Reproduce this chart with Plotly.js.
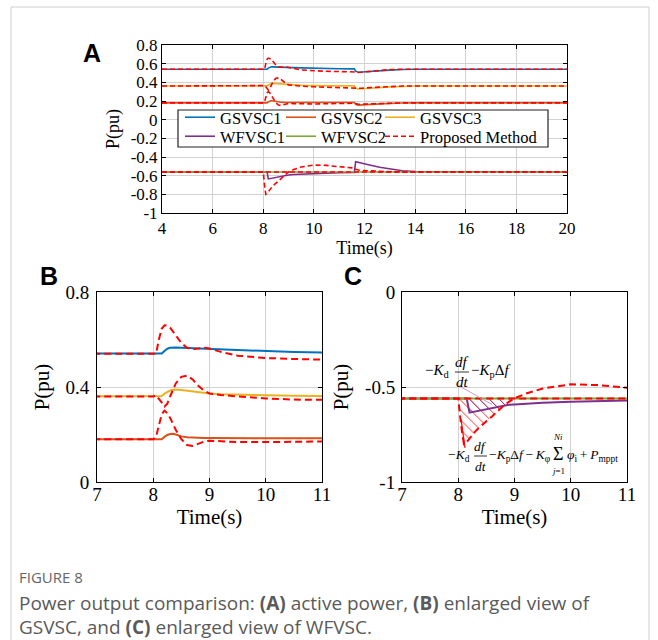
<!DOCTYPE html>
<html><head><meta charset="utf-8">
<script src="https://cdn.plot.ly/plotly-3.0.1.min.js"></script>
<style>html,body{margin:0;padding:0;background:#fff}</style>
</head><body><div id="chart" style="width:658px;height:640px"></div>
<script>
// ---------- data ----------
const time = [4, 8.0, 8.05, 8.1, 8.15, 8.2, 8.25, 8.3, 8.35, 8.4, 8.5, 8.6, 8.7, 8.8, 8.9, 9.0, 9.2, 9.5, 10.0, 10.5, 11.0, 11.5, 11.6, 11.65, 11.75, 11.9, 12.2, 12.6, 13.0, 13.5, 14.0, 20];
const gsvsc1 = [0.54,0.54,0.54,0.54,0.541,0.552,0.561,0.565,0.566,0.566,0.565,0.564,0.563,0.562,0.561,0.56,0.558,0.555,0.55,0.547,0.545,0.544,0.544,0.52,0.508,0.51,0.517,0.525,0.531,0.537,0.54,0.54];
const gsvsc2 = [0.18,0.18,0.18,0.18,0.18,0.19,0.198,0.202,0.203,0.2,0.192,0.188,0.186,0.185,0.185,0.185,0.185,0.185,0.185,0.185,0.185,0.184,0.184,0.165,0.156,0.158,0.164,0.171,0.175,0.178,0.18,0.18];
const gsvsc3 = [0.36,0.36,0.36,0.36,0.362,0.372,0.38,0.385,0.388,0.389,0.387,0.384,0.381,0.378,0.375,0.373,0.37,0.367,0.365,0.363,0.362,0.362,0.362,0.34,0.328,0.331,0.338,0.346,0.351,0.356,0.36,0.36];
const wfvsc1 = [-0.56,-0.56,-0.56,-0.56,-0.56,-0.635,-0.632,-0.628,-0.625,-0.622,-0.615,-0.608,-0.602,-0.597,-0.594,-0.592,-0.588,-0.583,-0.578,-0.573,-0.569,-0.566,-0.566,-0.45,-0.455,-0.465,-0.485,-0.51,-0.53,-0.548,-0.556,-0.56];
const wfvsc2 = [-0.56,-0.56,-0.56,-0.56,-0.56,-0.56,-0.56,-0.56,-0.56,-0.56,-0.56,-0.56,-0.56,-0.56,-0.56,-0.56,-0.56,-0.56,-0.56,-0.56,-0.56,-0.56,-0.56,-0.56,-0.56,-0.56,-0.56,-0.56,-0.56,-0.56,-0.56,-0.56];
const propGs1 = [0.54,0.54,0.54,0.6,0.645,0.66,0.658,0.65,0.635,0.615,0.585,0.565,0.56,0.562,0.565,0.562,0.548,0.532,0.522,0.518,0.516,0.515,0.515,0.511,0.506,0.51,0.52,0.53,0.536,0.54,0.54,0.54];
const propGs2 = [0.18,0.18,0.19,0.24,0.285,0.3,0.29,0.27,0.245,0.22,0.18,0.156,0.152,0.16,0.17,0.174,0.172,0.168,0.168,0.171,0.175,0.176,0.176,0.172,0.165,0.166,0.17,0.175,0.178,0.18,0.18,0.18];
const propGs3 = [0.36,0.36,0.365,0.352,0.335,0.318,0.33,0.36,0.39,0.415,0.443,0.448,0.432,0.405,0.385,0.373,0.366,0.36,0.352,0.347,0.344,0.343,0.343,0.34,0.335,0.336,0.343,0.35,0.356,0.36,0.36,0.36];
const propWf1 = [-0.56,-0.56,-0.7,-0.8,-0.79,-0.77,-0.75,-0.735,-0.72,-0.705,-0.68,-0.655,-0.625,-0.6,-0.578,-0.56,-0.535,-0.508,-0.486,-0.49,-0.504,-0.516,-0.518,-0.53,-0.54,-0.545,-0.55,-0.555,-0.558,-0.56,-0.56,-0.56];
const propWf2 = [-0.56,-0.56,-0.56,-0.56,-0.56,-0.56,-0.56,-0.56,-0.56,-0.56,-0.56,-0.56,-0.56,-0.56,-0.56,-0.56,-0.56,-0.56,-0.56,-0.56,-0.56,-0.56,-0.56,-0.56,-0.56,-0.56,-0.56,-0.56,-0.56,-0.56,-0.56,-0.56];

const seriesNames = ['GSVSC1','GSVSC2','GSVSC3','WFVSC1','WFVSC2','Proposed Method'];
const xTicksA = [4,6,8,10,12,14,16,18,20];
const yTicksA = [0.8,0.6,0.4,0.2,0,-0.2,-0.4,-0.6,-0.8,-1];
const yTickTextA = ['0.8','0.6','0.4','0.2','0','-0.2','-0.4','-0.6','-0.8','-1'];
const xTicksBC = [7,8,9,10,11];
const yTicksB = [0,0.4,0.8];
const yTickTextB = ['0','0.4','0.8'];
const yTicksC = [-1,-0.5,0];
const yTickTextC = ['-1','-0.5','0'];

// ---------- styling ----------
const W = 658, H = 640;
const px = v => v / W, py = v => 1 - v / H;
const C_BLUE = '#0072BD', C_ORANGE = '#D95319', C_YELLOW = '#EDB120', C_PURPLE = '#7E2F8E', C_GREEN = '#77AC30', C_RED = '#FF0000';
const SERIF = 'Liberation Serif, Times New Roman, serif';

function line(y, xa, ya, color, width, opts) {
  opts = opts || {};
  return Object.assign({
    type: 'scatter', mode: 'lines', x: time, y: y, xaxis: xa, yaxis: ya,
    line: {color: color, width: width, dash: opts.dash || 'solid'},
    showlegend: false, hoverinfo: 'skip'
  }, opts.extra || {});
}
function region(series, base, t0, t1, xa, ya, color) {
  const xs = [], ys = [];
  for (let i = 0; i < time.length; i++) if (time[i] >= t0 && time[i] <= t1) { xs.push(time[i]); ys.push(series[i]); }
  for (let i = time.length - 1; i >= 0; i--) if (time[i] >= t0 && time[i] <= t1) { xs.push(time[i]); ys.push(base[i]); }
  return {type: 'scatter', mode: 'lines', x: xs, y: ys, xaxis: xa, yaxis: ya, fill: 'toself',
    fillcolor: 'rgba(0,0,0,0)', line: {width: 0, color: color},
    fillpattern: {shape: '\\', fgcolor: color, bgcolor: 'rgba(0,0,0,0)', size: 7, solidity: 0.12},
    showlegend: false, hoverinfo: 'skip'};
}

const dashA = '5px,3px', dashBC = '7px,4px';
const traces = [];
const leg = (i, lg) => ({extra: {name: seriesNames[i], showlegend: true, legend: lg}});
// Panel A
traces.push(line(gsvsc1, 'x', 'y', C_BLUE, 1.6, leg(0, 'legend')));
traces.push(line(gsvsc2, 'x', 'y', C_ORANGE, 1.6, leg(1, 'legend2')));
traces.push(line(gsvsc3, 'x', 'y', C_YELLOW, 1.6, leg(2, 'legend3')));
traces.push(line(wfvsc1, 'x', 'y', C_PURPLE, 1.6, leg(3, 'legend4')));
traces.push(line(wfvsc2, 'x', 'y', C_GREEN, 1.6, leg(4, 'legend5')));
traces.push(line(propGs1, 'x', 'y', C_RED, 1.6, Object.assign({dash: dashA}, leg(5, 'legend6'))));
[propGs2, propGs3, propWf1, propWf2].forEach(s => traces.push(line(s, 'x', 'y', C_RED, 1.6, {dash: dashA})));
// Panel B
traces.push(line(gsvsc1, 'x2', 'y2', C_BLUE, 2));
traces.push(line(gsvsc2, 'x2', 'y2', C_ORANGE, 2));
traces.push(line(gsvsc3, 'x2', 'y2', C_YELLOW, 2));
[propGs1, propGs2, propGs3].forEach(s => traces.push(line(s, 'x2', 'y2', C_RED, 2, {dash: dashBC})));
// Panel C
traces.push(region(propWf1, wfvsc2, 8.0, 9.0, 'x3', 'y3', C_RED));
traces.push(region(wfvsc1, wfvsc2, 8.15, 8.9, 'x3', 'y3', C_PURPLE));
traces.push(line(wfvsc1, 'x3', 'y3', C_PURPLE, 2));
traces.push(line(wfvsc2, 'x3', 'y3', C_GREEN, 2));
[propWf1, propWf2].forEach(s => traces.push(line(s, 'x3', 'y3', C_RED, 2, {dash: dashBC})));

function axisBase(extra) {
  return Object.assign({
    showline: true, linecolor: '#000', linewidth: 1, mirror: 'ticks',
    ticks: 'inside', ticklen: 4, tickcolor: '#000',
    showgrid: true, gridcolor: '#d2d2d2', gridwidth: 1, zeroline: false,
    tickfont: {family: SERIF, size: 19, color: '#000'}, fixedrange: true
  }, extra);
}
const titleFont = s => ({family: SERIF, size: s, color: '#000'});
function legendAt(x, yTop) {
  return {x: px(x), y: py(yTop), xanchor: 'left', yanchor: 'top', orientation: 'h',
    bgcolor: 'rgba(0,0,0,0)', borderwidth: 0, font: {family: SERIF, size: 16.5, color: '#000'}, itemwidth: 30};
}

const layout = {
  width: W, height: H, margin: {l: 0, r: 0, t: 0, b: 0},
  paper_bgcolor: '#fff', plot_bgcolor: '#fff',
  xaxis: axisBase({domain: [px(162), px(567)], anchor: 'y', range: [4, 20], tickvals: xTicksA,
    tickfont: {family: SERIF, size: 17, color: '#000'}, title: {text: 'Time(s)', font: titleFont(18), standoff: 1}}),
  yaxis: axisBase({domain: [py(213), py(45)], anchor: 'x', range: [-1, 0.8], tickvals: yTicksA, ticktext: yTickTextA,
    tickfont: {family: SERIF, size: 17, color: '#000'}, title: {text: 'P(pu)', font: titleFont(18), standoff: 6}}),
  xaxis2: axisBase({domain: [px(97), px(322)], anchor: 'y2', range: [7, 11], tickvals: xTicksBC, ticklabelstandoff: -5,
    title: {text: 'Time(s)', font: titleFont(21), standoff: 0}}),
  yaxis2: axisBase({domain: [py(482), py(292)], anchor: 'x2', range: [0, 0.8], tickvals: yTicksB, ticktext: yTickTextB,
    ticklabelstandoff: 3, title: {text: 'P(pu)', font: titleFont(21), standoff: 10}}),
  xaxis3: axisBase({domain: [px(402), px(627)], anchor: 'y3', range: [7, 11], tickvals: xTicksBC, ticklabelstandoff: -5,
    title: {text: 'Time(s)', font: titleFont(21), standoff: 0}}),
  yaxis3: axisBase({domain: [py(482), py(292)], anchor: 'x3', range: [-1, 0], tickvals: yTicksC, ticktext: yTickTextC,
    ticklabelstandoff: 2, title: {text: 'P(pu)', font: titleFont(21), standoff: 10}}),
  legend: legendAt(180, 100),
  legend2: legendAt(281, 100),
  legend3: legendAt(380, 100),
  legend4: legendAt(180, 119),
  legend5: legendAt(281, 119),
  legend6: legendAt(380, 119),
  shapes: [
    // figure card border
    {type: 'line', xref: 'paper', yref: 'paper', x0: px(11), x1: px(11), y0: py(7), y1: py(640), line: {color: '#cfcfcf', width: 1}},
    {type: 'line', xref: 'paper', yref: 'paper', x0: px(11), x1: px(649), y0: py(7), y1: py(7), line: {color: '#cfcfcf', width: 1}},
    {type: 'line', xref: 'paper', yref: 'paper', x0: px(649), x1: px(649), y0: py(7), y1: py(640), line: {color: '#cfcfcf', width: 1}},
    // legend box
    {type: 'rect', xref: 'paper', yref: 'paper', x0: px(178), x1: px(548), y0: py(147), y1: py(110),
      fillcolor: '#fff', line: {color: '#222', width: 1.2}, layer: 'above'},
    // pointer lines in C
    {type: 'line', xref: 'x3', yref: 'y3', x0: 8.02, y0: -0.495, x1: 8.6, y1: -0.592, line: {color: '#c79ad6', width: 1}},
    {type: 'line', xref: 'x3', yref: 'y3', x0: 8.12, y0: -0.82, x1: 8.05, y1: -0.67, line: {color: C_RED, width: 1.2}},
    // fraction bars
    {type: 'line', xref: 'paper', yref: 'paper', x0: px(455), x1: px(469), y0: py(372), y1: py(372), line: {color: '#000', width: 0.8}},
    {type: 'line', xref: 'paper', yref: 'paper', x0: px(474), x1: px(487), y0: py(456), y1: py(456), line: {color: '#000', width: 0.8}}
  ],
  annotations: []
};

function ann(text, x, y, size, opts) {
  opts = opts || {};
  layout.annotations.push(Object.assign({text: text, xref: 'paper', yref: 'paper', x: px(x), y: py(y),
    xanchor: 'left', yanchor: 'middle', showarrow: false, borderpad: 0,
    font: {family: SERIF, size: size, color: '#000'}}, opts));
}
// panel letters
const LETTER = {family: 'Liberation Sans, Arial, sans-serif', size: 25, color: '#000', weight: 'bold'};
ann('<b>A</b>', 92, 53, 25, {xanchor: 'center', font: LETTER});
ann('<b>B</b>', 49, 276, 25, {xanchor: 'center', font: LETTER});
ann('<b>C</b>', 353, 276, 25, {xanchor: 'center', font: LETTER});
// formula 1
ann('−<i>K</i><sub>d</sub>', 424, 371, 15);
ann('<i>df</i>', 462, 362, 15, {xanchor: 'center'});
ann('<i>dt</i>', 462, 382, 15, {xanchor: 'center'});
ann('−<i>K</i><sub>p</sub>Δ<i>f</i>', 470, 371, 15);
// formula 2
ann('−<i>K</i><sub>d</sub>', 447, 455, 13.5);
ann('<i>df</i>', 480.5, 446, 13.5, {xanchor: 'center'});
ann('<i>dt</i>', 480.5, 466, 13.5, {xanchor: 'center'});
ann('−<i>K</i><sub>p</sub>Δ<i>f</i>\u2009−\u2009<i>K</i><sub>φ</sub>', 488, 455, 13.5);
ann('Σ', 558, 454, 18, {xanchor: 'center'});
ann('<i>Ni</i>', 558, 437, 9, {xanchor: 'center'});
ann('<i>j</i>=1', 558, 471, 9, {xanchor: 'center'});
ann('<i>φ</i><sub>i</sub>\u2009+\u2009<i>P</i><sub>mppt</sub>', 566, 455, 13.5);
// caption
const CAP = 'Open Sans, Noto Sans, sans-serif';
ann('FIGURE 8', 18, 577, 15, {font: {family: CAP, size: 15, color: '#666'}});
ann('Power output comparison: <b>(A)</b> active power, <b>(B)</b> enlarged view of', 18, 603, 19, {font: {family: CAP, size: 19, color: '#5a5a5a'}});
ann('GSVSC, and <b>(C)</b> enlarged view of WFVSC.', 18, 627, 19, {font: {family: CAP, size: 19, color: '#5a5a5a'}});

Plotly.newPlot('chart', traces, layout, {displayModeBar: false, staticPlot: true});
</script></body></html>
